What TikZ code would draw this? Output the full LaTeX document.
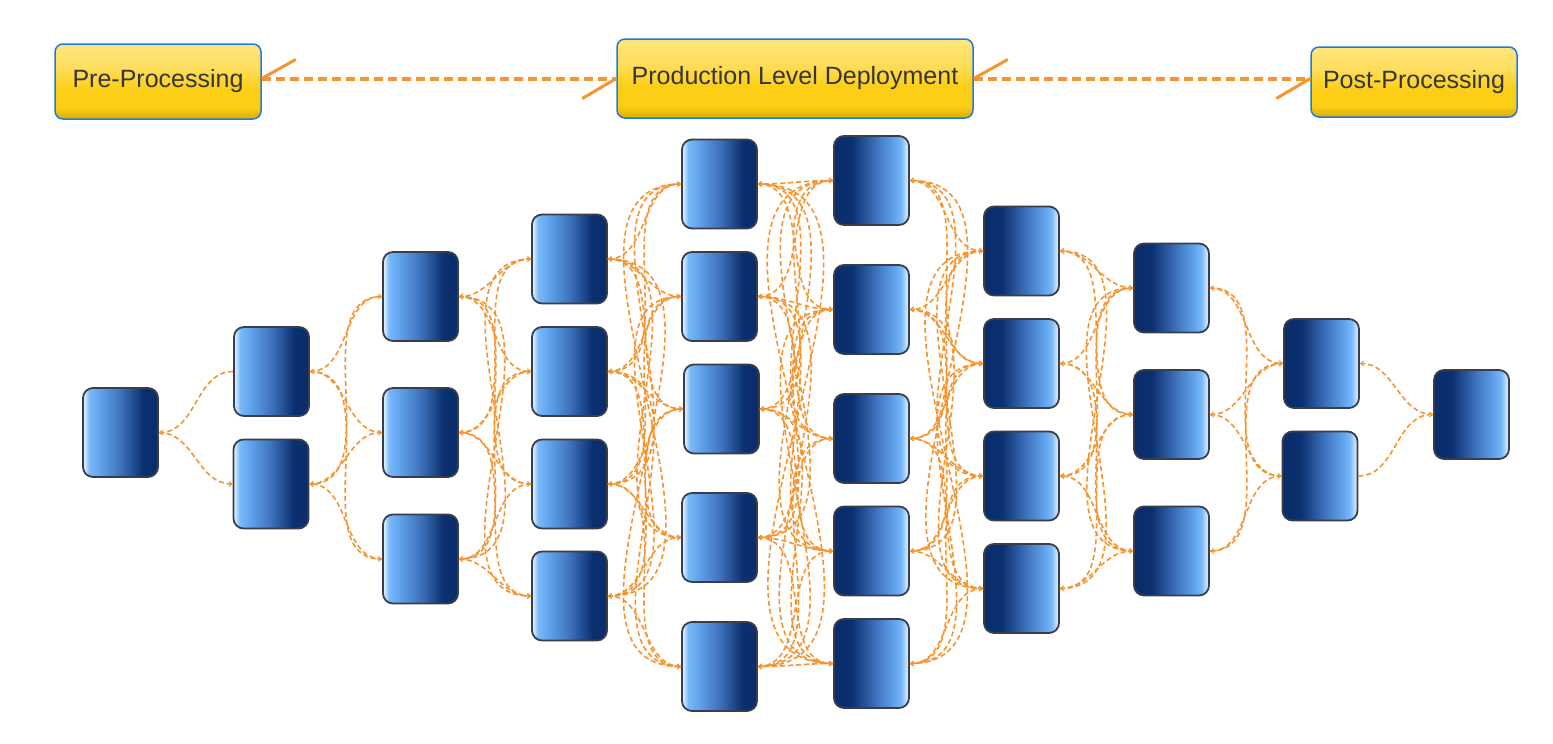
\documentclass[tikz,border=0pt]{standalone}
\usepackage{fontspec}
\setmainfont{Liberation Sans}
\usetikzlibrary{arrows.meta}
\definecolor{edgeor}{RGB}{247,148,50}
\definecolor{boxline}{RGB}{30,122,225}
\definecolor{nodeline}{RGB}{58,62,74}
\definecolor{txt}{RGB}{54,54,58}
\definecolor{bW}{RGB}{214,235,255}
\definecolor{bL}{RGB}{122,185,247}
\definecolor{bL2}{RGB}{100,166,240}
\definecolor{bM}{RGB}{62,114,188}
\definecolor{bD}{RGB}{11,48,112}
\definecolor{bD2}{RGB}{10,45,106}
\definecolor{gT}{RGB}{255,230,125}
\definecolor{gT2}{RGB}{254,222,95}
\definecolor{gM2}{RGB}{252,207,22}
\definecolor{gB}{RGB}{218,172,6}
\pgfdeclarehorizontalshading{blueA}{100bp}{color(0bp)=(bW); color(25bp)=(bW); color(26bp)=(bW); color(29bp)=(bL); color(35bp)=(bL2); color(50bp)=(bM); color(65bp)=(bD); color(75bp)=(bD2); color(100bp)=(bD2)}
\pgfdeclarehorizontalshading{blueB}{100bp}{color(0bp)=(bD2); color(25bp)=(bD2); color(37bp)=(bD); color(53bp)=(bM); color(66bp)=(bL2); color(70bp)=(bL); color(74bp)=(bW); color(75bp)=(bW); color(100bp)=(bW)}
\pgfdeclareverticalshading{goldshade}{100bp}{color(0bp)=(gB); color(25bp)=(gB); color(33bp)=(gM2); color(45bp)=(gM2); color(60bp)=(gT2); color(75bp)=(gT); color(100bp)=(gT)}
\tikzset{
  blk/.style={rectangle, minimum width=75pt, minimum height=89pt, inner sep=0pt,
    rounded corners=10pt, draw=nodeline, line width=1.8pt},
  blkA/.style={blk, shading=blueA},
  blkB/.style={blk, shading=blueB},
  goldbox/.style={rectangle, rounded corners=8pt, draw=boxline, line width=1.5pt,
    shading=goldshade, text=txt, font=\fontsize{25}{30}\selectfont, inner sep=0pt},
  edge/.style={draw=edgeor, line width=1.6pt, dash pattern=on 5pt off 3pt},
  tip/.style={-{Straight Barb[length=3pt,width=5pt,line width=1pt]}},
  topline/.style={draw=edgeor, line width=4pt, dash pattern=on 9pt off 5pt},
  slash/.style={draw=edgeor, line width=3pt}
}
\begin{document}
\begin{tikzpicture}[x=1pt,y=-1pt]
\useasboundingbox (0,0) rectangle (1553,744);
% top row
\node[goldbox, minimum width=206pt, minimum height=75pt] (pre) at (158,81.5) {Pre-Processing};
\node[goldbox, minimum width=356pt, minimum height=79pt] (prod) at (795,78.5) {Production Level Deployment};
\node[goldbox, minimum width=206pt, minimum height=70pt] (post) at (1414,82) {Post-Processing};
\coordinate (l1s) at (pre.east |- prod.west);
\coordinate (l2e) at (prod.east -| post.west);
\draw[topline] (l1s) -- (prod.west);
\draw[topline] (prod.east) -- (l2e);
\draw[slash] (l1s) -- ++(34,-19);
\draw[slash] (prod.west) -- ++(-34,20);
\draw[slash] (prod.east) -- ++(34,-19);
\draw[slash] (l2e) -- ++(-34,20);
% network nodes
\node[blkA] (n0-1) at (120.5,432.5) {};
\node[blkA] (n1-1) at (271.5,371.5) {};
\node[blkA] (n1-2) at (271,484) {};
\node[blkA] (n2-1) at (420.5,296.5) {};
\node[blkA] (n2-2) at (420.5,432.5) {};
\node[blkA] (n2-3) at (420.5,559) {};
\node[blkA] (n3-1) at (569.5,259) {};
\node[blkA] (n3-2) at (569.5,371.5) {};
\node[blkA] (n3-3) at (569.5,484) {};
\node[blkA] (n3-4) at (569.5,596) {};
\node[blkA] (n4-1) at (719.5,184) {};
\node[blkA] (n4-2) at (719.5,296.5) {};
\node[blkA] (n4-3) at (721.5,409) {};
\node[blkA] (n4-4) at (719.5,537.5) {};
\node[blkA] (n4-5) at (719.5,666.5) {};
\node[blkB] (n5-1) at (871.5,180.5) {};
\node[blkB] (n5-2) at (871.5,309.5) {};
\node[blkB] (n5-3) at (871.5,438.5) {};
\node[blkB] (n5-4) at (871.5,551) {};
\node[blkB] (n5-5) at (871.5,663.5) {};
\node[blkB] (n6-1) at (1021.5,251) {};
\node[blkB] (n6-2) at (1021.5,363.5) {};
\node[blkB] (n6-3) at (1021.5,476) {};
\node[blkB] (n6-4) at (1021.5,588.5) {};
\node[blkB] (n7-1) at (1171.5,288) {};
\node[blkB] (n7-2) at (1171.5,414.5) {};
\node[blkB] (n7-3) at (1171.5,551) {};
\node[blkB] (n8-1) at (1321.5,363.5) {};
\node[blkB] (n8-2) at (1320,476) {};
\node[blkB] (n9-1) at (1471.5,414.5) {};
% connectors
\foreach \a/\b/\na/\nb in {0/1/1/2, 1/2/2/3, 2/3/3/4, 3/4/4/5, 4/5/5/5, 5/6/5/4, 6/7/4/3, 7/8/3/2, 8/9/2/1}{
  \foreach \i in {1,...,\na}{
    \foreach \j in {1,...,\nb}{
      \ifodd\numexpr\i+\j+\a\relax
        \draw[edge,tip] (n\a-\i.east) to[out=0,in=180] (n\b-\j.west);
      \else
        \draw[edge,tip] (n\b-\j.west) to[out=180,in=0] (n\a-\i.east);
      \fi
    }
  }
}
\end{tikzpicture}
\end{document}
